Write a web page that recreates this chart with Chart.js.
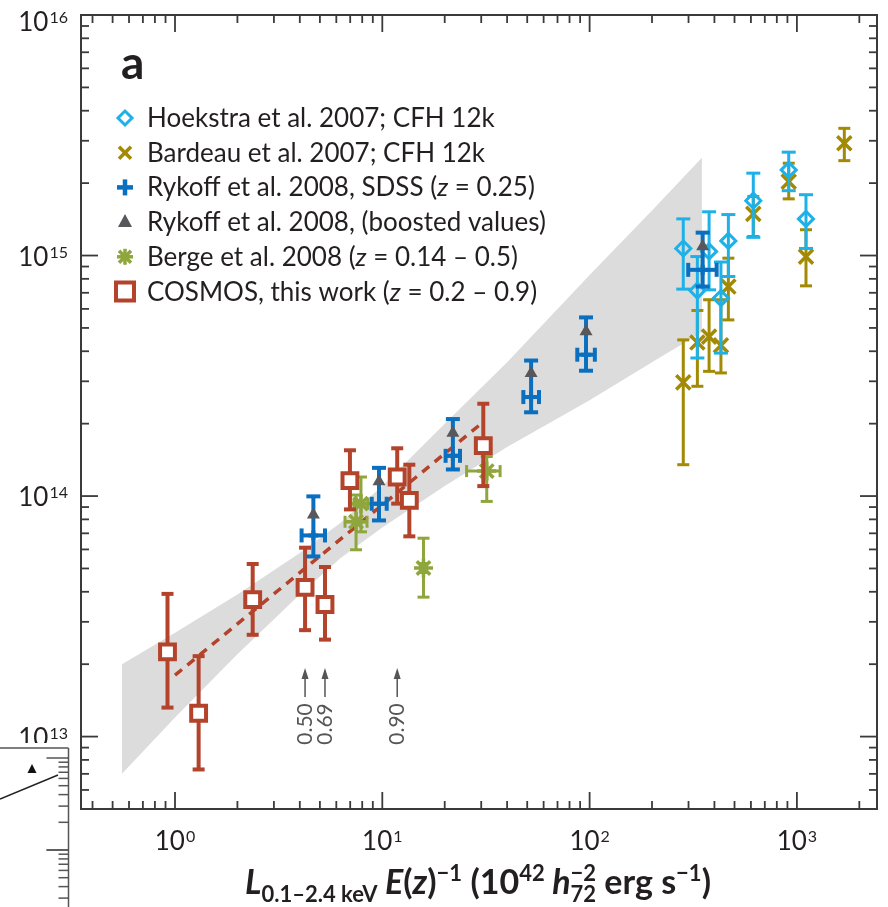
<!DOCTYPE html>
<html>
<head>
<meta charset="utf-8">
<script src="https://cdn.jsdelivr.net/npm/chart.js@4.4.1/dist/chart.umd.min.js"></script>
<style>
    html, body { margin: 0; padding: 0; background: #fff; }
    canvas { display: block; }
</style>
</head>
<body>
<canvas id="myChart" width="888" height="907"></canvas>
<script>
// series names (legend order)
const seriesNames = [
    'Hoekstra et al. 2007; CFH 12k',
    'Bardeau et al. 2007; CFH 12k',
    'Rykoff et al. 2008, SDSS (z = 0.25)',
    'Rykoff et al. 2008, (boosted values)',
    'Berge et al. 2008 (z = 0.14 – 0.5)',
    'COSMOS, this work (z = 0.2 – 0.9)'
];

// tick labels: powers of ten
const xTickPowers = [0, 1, 2, 3];
const yTickPowers = [13, 14, 15, 16];

// COSMOS
const cosmosL = [0.92, 1.30, 2.37, 4.24, 5.29, 6.98, 11.8, 13.5, 30.7];
const cosmosM = [2.25e13, 1.25e13, 3.71e13, 4.17e13, 3.54e13, 1.16e14, 1.20e14, 9.6e13, 1.62e14];
const cosmosMhi = [3.92e13, 2.16e13, 5.22e13, 6.1e13, 5.07e13, 1.55e14, 1.58e14, 1.35e14, 2.42e14];
const cosmosMlo = [1.32e13, 7.3e12, 2.65e13, 2.77e13, 2.53e13, 8.8e13, 9.3e13, 6.8e13, 1.10e14];

// Rykoff SDSS + boosted
const rykoffL = [4.65, 9.64, 21.9, 52.2, 96.1, 351];
const rykoffLlo = [4.08, 8.89, 20.2, 47.9, 87.2, 299];
const rykoffLhi = [5.29, 10.5, 23.7, 57.0, 106, 410];
const rykoffM = [6.86e13, 9.29e13, 1.47e14, 2.58e14, 3.87e14, 8.72e14];
const rykoffMhi = [9.97e13, 1.31e14, 2.09e14, 3.66e14, 5.53e14, 1.245e15];
const rykoffMlo = [5.61e13, 7.92e13, 1.29e14, 2.23e14, 3.32e14, 7.43e14];
const boostedM = [8.37e13, 1.15e14, 1.83e14, 3.24e14, 4.83e14, 1.09e15];

// Hoekstra 2007
const hoekL = [283, 331, 377, 430, 467, 616, 913, 1106];
const hoekM = [1.07e15, 7.15e14, 1.04e15, 6.65e14, 1.15e15, 1.69e15, 2.27e15, 1.42e15];
const hoekMhi = [1.42e15, 9.9e14, 1.52e15, 9.4e14, 1.48e15, 2.20e15, 2.69e15, 1.79e15];
const hoekMlo = [7.25e14, 3.75e14, 7.2e14, 3.93e14, 8.18e14, 1.19e15, 1.86e15, 1.07e15];

// Bardeau 2007
const bardL = [283, 331, 377, 430, 467, 616, 913, 1106, 1693];
const bardM = [2.97e14, 4.35e14, 4.6e14, 4.23e14, 7.43e14, 1.49e15, 2.03e15, 9.9e14, 2.93e15];
const bardMhi = [4.46e14, 5.91e14, 6.55e14, 6.55e14, 9.75e14, 1.76e15, 2.42e15, 1.28e15, 3.38e15];
const bardMlo = [1.35e14, 2.86e14, 3.3e14, 3.25e14, 5.4e14, 1.20e15, 1.72e15, 7.48e14, 2.48e15];

// Berge 2008
const bergeL = [7.89, 7.47, 15.8, 31.9];
const bergeLlo = [7.3, 6.61, 15.3, 25.5];
const bergeLhi = [8.5, 8.44, 16.3, 37.0];
const bergeM = [9.3e13, 7.82e13, 5.02e13, 1.27e14];
const bergeMhi = [1.20e14, 1.01e14, 6.68e13, 1.46e14];
const bergeMlo = [7.1e13, 5.98e13, 3.80e13, 9.5e13];

// fit (dashed) and its band
const fitL = [1.0, 30];
const fitM = [1.8e13, 2.0e14];
const bandL = [0.555, 1, 2, 4, 6.25, 10, 20, 40, 100, 200, 348];
const bandHi = [2.0e13, 2.7e13, 3.9e13, 5.8e13, 7.7e13, 1.1e14, 2.0e14, 3.6e14, 8.3e14, 1.54e15, 2.55e15];
const bandLo = [7.0e12, 1.2e13, 2.2e13, 3.9e13, 5.5e13, 7.4e13, 1.1e14, 1.6e14, 2.5e14, 3.6e14, 4.8e14];

// redshift notes under COSMOS points
const zNotes = ['0.50', '0.69', '0.90'];
const zNoteL = [4.24, 5.29, 11.8];

const cRed = '#b3432b';
const cBlue = '#0a6fbf';
const cGrey = '#58585c';
const cSky = '#1eb1e7';
const cOlive = '#a38a05';
const cGreen = '#8fa63c';
const ink = '#231f20';

function xy(xs, ys) {
    return xs.map((v, i) => ({ x: v, y: ys[i] }));
}

function seg(ctx, x1, y1, x2, y2) {
    ctx.beginPath();
    ctx.moveTo(x1, y1);
    ctx.lineTo(x2, y2);
    ctx.stroke();
}

// error bars, drawn under each dataset's markers
const errBars = {
    id: 'errBars',
    beforeDatasetDraw(chart, args) {
        const ds = chart.data.datasets[args.index];
        if (!ds.err) return;
        const e = ds.err;
        const ctx = chart.ctx, sx = chart.scales.x, sy = chart.scales.y;
        ctx.save();
        ctx.strokeStyle = e.color;
        ctx.lineWidth = e.lw;
        ds.data.forEach((p, i) => {
            const px = sx.getPixelForValue(p.x), py = sy.getPixelForValue(p.y);
            if (e.yLo) {
                const a = sy.getPixelForValue(e.yHi[i]), b = sy.getPixelForValue(e.yLo[i]);
                seg(ctx, px, a, px, b);
                seg(ctx, px - e.cap, a, px + e.cap, a);
                seg(ctx, px - e.cap, b, px + e.cap, b);
            }
            if (e.xLo) {
                const a = sx.getPixelForValue(e.xLo[i]), b = sx.getPixelForValue(e.xHi[i]);
                seg(ctx, a, py, b, py);
                seg(ctx, a, py - e.cap, a, py + e.cap);
                seg(ctx, b, py - e.cap, b, py + e.cap);
            }
        });
        ctx.restore();
    }
};

function pow10(ctx, e, x, baseY, align) {
    ctx.font = '26px Lato';
    const w1 = ctx.measureText('10').width;
    ctx.font = '16px Lato';
    const w2 = ctx.measureText(String(e)).width;
    const tot = w1 + 1 + w2;
    const x0 = align === 'right' ? x - tot : x - tot / 2;
    ctx.font = '26px Lato';
    ctx.fillText('10', x0, baseY);
    ctx.font = '16px Lato';
    ctx.fillText(String(e), x0 + w1 + 1, baseY - 8);
}

function legendMark(ctx, i, x, y) {
    ctx.save();
    ctx.lineCap = 'butt';
    if (i === 0) {
        ctx.strokeStyle = cSky; ctx.lineWidth = 3;
        ctx.beginPath();
        ctx.moveTo(x, y - 7); ctx.lineTo(x + 7, y); ctx.lineTo(x, y + 7); ctx.lineTo(x - 7, y);
        ctx.closePath(); ctx.stroke();
    } else if (i === 1) {
        ctx.strokeStyle = cOlive; ctx.lineWidth = 3.5;
        seg(ctx, x - 6, y - 6, x + 6, y + 6); seg(ctx, x - 6, y + 6, x + 6, y - 6);
    } else if (i === 2) {
        ctx.strokeStyle = cBlue; ctx.lineWidth = 4.5;
        seg(ctx, x - 8, y, x + 8, y); seg(ctx, x, y - 8, x, y + 8);
    } else if (i === 3) {
        ctx.fillStyle = cGrey;
        ctx.beginPath();
        ctx.moveTo(x, y - 8); ctx.lineTo(x + 7, y + 5); ctx.lineTo(x - 7, y + 5);
        ctx.closePath(); ctx.fill();
    } else if (i === 4) {
        ctx.strokeStyle = cGreen; ctx.lineWidth = 3.5;
        seg(ctx, x - 8, y, x + 8, y); seg(ctx, x, y - 8, x, y + 8);
        seg(ctx, x - 6, y - 6, x + 6, y + 6); seg(ctx, x - 6, y + 6, x + 6, y - 6);
    } else {
        ctx.strokeStyle = cRed; ctx.lineWidth = 4; ctx.fillStyle = '#fff';
        ctx.fillRect(x - 9, y - 9, 18, 18);
        ctx.strokeRect(x - 9, y - 9, 18, 18);
    }
    ctx.restore();
}

function richText(ctx, parts, x, baseY, center) {
    let tot = 0;
    parts.forEach(p => { ctx.font = p[1]; if (!p[3]) tot += ctx.measureText(p[0]).width; });
    let cx = center ? x - tot / 2 : x;
    parts.forEach(p => {
        ctx.font = p[1];
        ctx.fillText(p[0], cx, baseY + p[2]);
        if (!p[3]) cx += ctx.measureText(p[0]).width;
    });
}

const frame = {
    id: 'frame',
    afterDraw(chart) {
        const ctx = chart.ctx, a = chart.chartArea, sx = chart.scales.x, sy = chart.scales.y;
        ctx.save();
        ctx.strokeStyle = '#3a3a3a';
        ctx.lineWidth = 2;
        ctx.strokeRect(a.left, a.top, a.right - a.left, a.bottom - a.top);

        // inward ticks on all four sides
        ctx.lineWidth = 1.8;
        for (let k = -1; k <= 3; k++) {
            for (let m = 1; m <= 9; m++) {
                const v = m * Math.pow(10, k);
                if (v < sx.min || v > sx.max) continue;
                const px = sx.getPixelForValue(v);
                const len = m === 1 ? 17 : 8;
                seg(ctx, px, a.bottom, px, a.bottom - len);
                seg(ctx, px, a.top, px, a.top + len);
            }
        }
        for (let k = 12; k <= 15; k++) {
            for (let m = 1; m <= 9; m++) {
                const v = m * Math.pow(10, k);
                if (v < sy.min || v > sy.max) continue;
                const py = sy.getPixelForValue(v);
                const len = m === 1 ? 17 : 8;
                seg(ctx, a.left, py, a.left + len, py);
                seg(ctx, a.right, py, a.right - len, py);
            }
        }

        // tick labels
        ctx.fillStyle = ink;
        ctx.textAlign = 'left';
        ctx.textBaseline = 'alphabetic';
        yTickPowers.forEach(p => {
            const py = sy.getPixelForValue(Math.pow(10, p));
            pow10(ctx, p, 68, Math.max(py + 10, 31), 'right');
        });
        xTickPowers.forEach(p => {
            const px = sx.getPixelForValue(Math.pow(10, p));
            pow10(ctx, p, px, 850, 'center');
        });

        // x axis title
        const B = 'bold 34px Lato', BI = 'italic bold 34px Lato', S = 'bold 22px Lato';
        richText(ctx, [
            ['L', BI, 0], ['0.1–2.4 keV', S, 8], [' E', BI, 0], ['(', B, 0], ['z', BI, 0], [')', B, 0],
            ['−1', S, -13], [' (10', B, 0], ['42', S, -13], [' h', BI, 0], ['72', S, 8, true], ['−2', S, -13],
            [' erg s', B, 0], ['−1', S, -13], [')', B, 0]
        ], 478, 894, true);

        // panel letter
        ctx.font = 'bold 46px Lato';
        ctx.fillText('a', 121, 79);

        // legend
        seriesNames.forEach((name, i) => {
            const ly = 118 + i * 34.7;
            legendMark(ctx, i, 125, ly);
            ctx.fillStyle = ink;
            const bits = name.split('z');
            const parts = [];
            bits.forEach((b, j) => {
                if (j > 0) parts.push(['z', 'italic 26px Lato', 0]);
                parts.push([b, '26px Lato', 0]);
            });
            richText(ctx, parts, 147, ly + 9, false);
        });

        // redshift arrows
        ctx.strokeStyle = '#555';
        ctx.fillStyle = '#555';
        ctx.lineWidth = 1.5;
        zNotes.forEach((t, i) => {
            const px = sx.getPixelForValue(zNoteL[i]);
            seg(ctx, px, 697, px, 676);
            ctx.beginPath();
            ctx.moveTo(px, 668); ctx.lineTo(px + 3.5, 679); ctx.lineTo(px - 3.5, 679);
            ctx.closePath(); ctx.fill();
            ctx.save();
            ctx.translate(px, 724);
            ctx.rotate(-Math.PI / 2);
            ctx.font = '21px Lato';
            ctx.textAlign = 'center';
            ctx.textBaseline = 'middle';
            ctx.fillText(t, 0, 0);
            ctx.restore();
        });

        // neighbouring panel fragment at bottom-left
        ctx.fillStyle = '#fff';
        ctx.fillRect(0, 743, 68, 164);
        ctx.strokeStyle = '#555';
        ctx.lineWidth = 1.5;
        seg(ctx, 0, 748, 68.5, 748);
        seg(ctx, 68.5, 748, 68.5, 907);
        for (let d = 0; d < 2; d++) {
            const top = 758 + d * 92;
            for (let m = 1; m <= 10; m++) {
                const py = top + 92 * (1 - Math.log10(m));
                if (py > 907) continue;
                const len = (m === 1 || m === 10) ? 22 : 10;
                seg(ctx, 68.5, py, 68.5 - len, py);
            }
        }
        ctx.fillStyle = '#111';
        ctx.beginPath();
        ctx.moveTo(32, 764); ctx.lineTo(36.5, 773); ctx.lineTo(27.5, 773);
        ctx.closePath(); ctx.fill();
        ctx.strokeStyle = '#222';
        seg(ctx, 0, 799, 58, 775);

        ctx.restore();
    }
};

const ctx = document.getElementById('myChart').getContext('2d');
new Chart(ctx, {
    type: 'scatter',
    data: {
        datasets: [
            {
                label: seriesNames[3],
                data: xy(rykoffL, boostedM),
                pointStyle: 'triangle', pointRadius: 7.5, borderWidth: 0,
                backgroundColor: cGrey, borderColor: cGrey
            },
            {
                label: seriesNames[2],
                data: xy(rykoffL, rykoffM),
                pointStyle: 'cross', pointRadius: 5, borderWidth: 4,
                borderColor: cBlue, backgroundColor: cBlue,
                err: { yLo: rykoffMlo, yHi: rykoffMhi, xLo: rykoffLlo, xHi: rykoffLhi, cap: 7, lw: 4, color: cBlue }
            },
            {
                label: seriesNames[5],
                data: xy(cosmosL, cosmosM),
                pointStyle: 'rect', pointRadius: 10.5, borderWidth: 4,
                borderColor: cRed, backgroundColor: '#fff',
                err: { yLo: cosmosMlo, yHi: cosmosMhi, cap: 6, lw: 4, color: cRed }
            },
            {
                label: seriesNames[4],
                data: xy(bergeL, bergeM),
                pointStyle: 'star', pointRadius: 9.5, borderWidth: 3.5,
                borderColor: cGreen, backgroundColor: cGreen,
                err: { yLo: bergeMlo, yHi: bergeMhi, xLo: bergeLlo, xHi: bergeLhi, cap: 6, lw: 3, color: cGreen }
            },
            {
                label: seriesNames[0],
                data: xy(hoekL, hoekM),
                pointStyle: 'rectRot', pointRadius: 7.5, borderWidth: 3,
                borderColor: cSky, backgroundColor: 'rgba(255,255,255,0)',
                err: { yLo: hoekMlo, yHi: hoekMhi, cap: 7, lw: 3, color: cSky }
            },
            {
                label: seriesNames[1],
                data: xy(bardL, bardM),
                pointStyle: 'crossRot', pointRadius: 10, borderWidth: 3.5,
                borderColor: cOlive, backgroundColor: cOlive,
                err: { yLo: bardMlo, yHi: bardMhi, cap: 6, lw: 3, color: cOlive }
            },
            {
                label: 'fit',
                data: xy(fitL, fitM),
                showLine: true, pointRadius: 0, borderColor: cRed, borderWidth: 3.5,
                borderDash: [9, 7]
            },
            {
                label: 'band upper',
                data: xy(bandL, bandHi),
                showLine: true, pointRadius: 0, borderWidth: 0, borderColor: 'rgba(0,0,0,0)',
                backgroundColor: '#dcdcdc', fill: '+1'
            },
            {
                label: 'band lower',
                data: xy(bandL, bandLo),
                showLine: true, pointRadius: 0, borderWidth: 0, borderColor: 'rgba(0,0,0,0)'
            }
        ]
    },
    options: {
        responsive: false,
        animation: false,
        devicePixelRatio: 1,
        events: [],
        layout: { autoPadding: false, padding: { left: 81, top: 15, right: 11, bottom: 98 } },
        plugins: { legend: { display: false }, tooltip: { enabled: false } },
        scales: {
            x: { type: 'logarithmic', min: 0.352, max: 2434, display: false },
            y: { type: 'logarithmic', min: 5e12, max: 1e16, display: false }
        }
    },
    plugins: [errBars, frame]
});
</script>
</body>
</html>
